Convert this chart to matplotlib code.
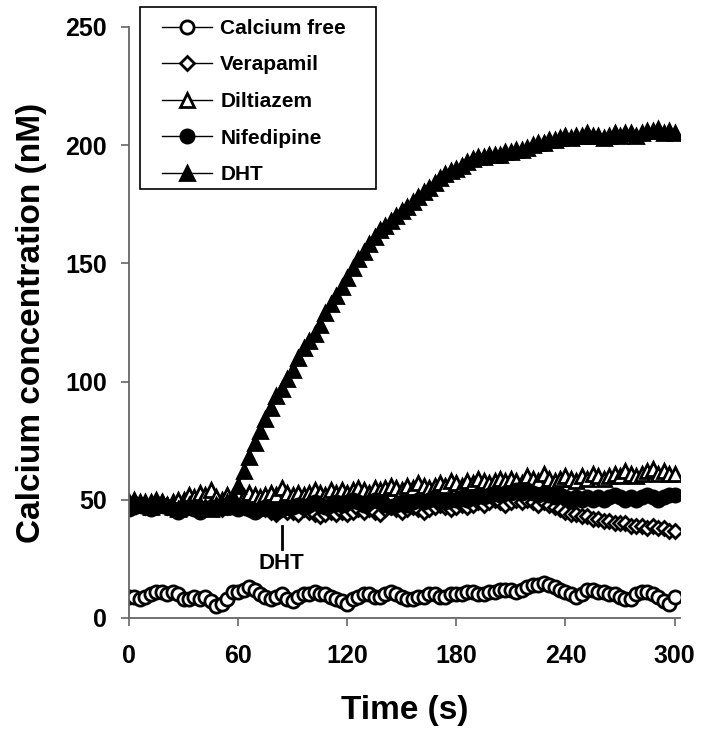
import numpy as np
import matplotlib
matplotlib.use('Agg')
import matplotlib.pyplot as plt
from matplotlib.patches import Rectangle

plt.rcParams['font.family'] = ['Liberation Sans', 'DejaVu Sans']
plt.rcParams['font.weight'] = 'bold'

# Время, с (шаг 3 с)
time_s = list(range(0, 301, 3))

calcium_free = [9, 9, 8, 9, 10, 11, 11, 10, 11, 10,
                8, 8, 9, 8, 9, 7, 5, 6, 8, 11,
                11, 12, 13, 12, 10, 9, 8, 9, 10, 8,
                7, 9, 10, 10, 11, 10, 10, 9, 8, 7,
                6, 8, 9, 10, 10, 9, 9, 10, 11, 10,
                9, 8, 8, 9, 9, 10, 10, 9, 9, 10,
                10, 10, 11, 11, 10, 10, 11, 11, 12, 12,
                12, 11, 12, 13, 14, 14, 15, 14, 13, 12,
                11, 10, 9, 10, 12, 12, 11, 11, 10, 10,
                9, 8, 8, 10, 11, 11, 10, 9, 7, 6,
                9]

verapamil = [48, 49, 48, 47, 48, 49, 48, 47, 48, 48,
             47, 48, 47, 46, 47, 48, 47, 46, 47, 48,
             47, 47, 46, 48, 47, 46, 45, 44, 46, 45,
             45, 44, 46, 45, 44, 43, 44, 45, 44, 45,
             44, 45, 46, 45, 46, 45, 44, 46, 47, 46,
             45, 46, 47, 46, 45, 46, 47, 48, 47, 46,
             47, 48, 47, 48, 49, 48, 49, 50, 49, 48,
             49, 50, 49, 50, 49, 48, 49, 48, 47, 46,
             45, 44, 44, 43, 43, 42, 42, 41, 41, 40,
             40, 40, 39, 39, 39, 38, 39, 38, 38, 37,
             37]

diltiazem = [49, 50, 49, 48, 49, 50, 49, 48, 49, 50,
             50, 52, 51, 53, 52, 54, 51, 50, 52, 51,
             52, 51, 53, 52, 51, 52, 53, 52, 55, 53,
             52, 53, 52, 53, 54, 53, 52, 54, 53, 54,
             53, 54, 55, 54, 53, 55, 54, 55, 56, 55,
             54, 56, 55, 57, 56, 55, 56, 57, 56, 58,
             57, 56, 58, 57, 59, 58, 57, 58, 59, 58,
             59, 58, 57, 60, 59, 58, 61, 59, 58, 59,
             60, 59, 58, 60, 59, 61, 60, 59, 60, 61,
             60, 62, 61, 60, 61, 62, 63, 61, 62, 61,
             61]

nifedipine = [46, 47, 48, 47, 46, 47, 48, 47, 46, 45,
              46, 47, 46, 45, 46, 47, 46, 47, 48, 47,
              46, 47, 46, 45, 46, 47, 46, 45, 46, 47,
              47, 48, 47, 48, 49, 48, 47, 48, 49, 48,
              49, 50, 49, 48, 49, 50, 49, 48, 47, 48,
              49, 48, 49, 50, 49, 50, 51, 50, 49, 50,
              50, 51, 50, 51, 52, 51, 52, 53, 52, 53,
              53, 54, 53, 54, 53, 52, 53, 52, 51, 52,
              51, 50, 51, 50, 51, 50, 51, 50, 51, 52,
              51, 50, 51, 50, 51, 52, 51, 50, 51, 52,
              52]

dht = [48, 49, 48, 49, 47, 48, 49, 48, 47, 46,
       47, 48, 47, 48, 47, 46, 48, 47, 49, 51,
       56, 62, 68, 74, 79, 84, 89, 94, 97, 101,
       105, 110, 114, 117, 120, 124, 129, 133, 136, 140,
       144, 148, 152, 155, 158, 161, 164, 166, 168, 170,
       172, 174, 176, 178, 180, 182, 184, 186, 188, 189,
       190, 191, 193, 194, 195, 195, 196, 196, 196, 197,
       197, 198, 198, 199, 200, 201, 201, 202, 202, 203,
       204, 203, 204, 204, 205, 204, 204, 203, 204, 205,
       204, 205, 205, 204, 205, 206, 206, 207, 205, 206,
       205]

series = [
    ('Calcium free', calcium_free, 'o', 'white', 9.5),
    ('Verapamil', verapamil, 'D', 'white', 7),
    ('Diltiazem', diltiazem, '^', 'white', 9.5),
    ('Nifedipine', nifedipine, 'o', 'black', 9.5),
    ('DHT', dht, '^', 'black', 9.5),
]

W, H = 702, 731
fig = plt.figure(figsize=(W / 100, H / 100), dpi=100)
ax = fig.add_axes([0.1838, 0.1546, 0.7849, 0.8085])

lines = []
for name, values, marker, face, size in series:
    ln, = ax.plot(time_s, values, color='black', lw=1, marker=marker,
                  markerfacecolor=face, markeredgecolor='black',
                  markersize=size, markeredgewidth=2.0, label=name)
    lines.append(ln)

# Отметка добавления DHT
ax.plot([84, 84], [29, 39], color='black', lw=2)
ax.text(84, 23, 'DHT', ha='center', va='center', fontsize=16, fontweight='bold')

ax.set_xlim(0, 303)
ax.set_ylim(0, 250)
ax.set_xticks([0, 60, 120, 180, 240, 300])
ax.set_yticks([0, 50, 100, 150, 200, 250])

for side in ['top', 'right']:
    ax.spines[side].set_visible(False)
for side in ['left', 'bottom']:
    ax.spines[side].set_color('#666666')
    ax.spines[side].set_linewidth(1.3)
ax.tick_params(axis='both', direction='out', length=6, width=1.2,
               color='#666666', labelsize=18)
ax.tick_params(axis='x', pad=13)
ax.tick_params(axis='y', pad=10)

ax.set_xlabel('Time (s)', fontsize=24, fontweight='bold', labelpad=19)
ax.set_ylabel('Calcium concentration (nM)', fontsize=24, fontweight='bold', labelpad=13)

# Рамка легенды
frame = Rectangle((140 / W, 1 - 189 / H), (376 - 140) / W, (189 - 7) / H,
                  transform=fig.transFigure, facecolor='white',
                  edgecolor='black', lw=1.2, zorder=4)
fig.add_artist(frame)

leg = fig.legend(handles=lines, loc='upper left',
                 bbox_to_anchor=(162 / W, 1 - 19 / H),
                 borderaxespad=0, borderpad=0, frameon=False,
                 fontsize=15, handlelength=2.4, handletextpad=0.4,
                 labelspacing=0.84)
leg.set_zorder(5)

fig.savefig('out.png', dpi=100)
